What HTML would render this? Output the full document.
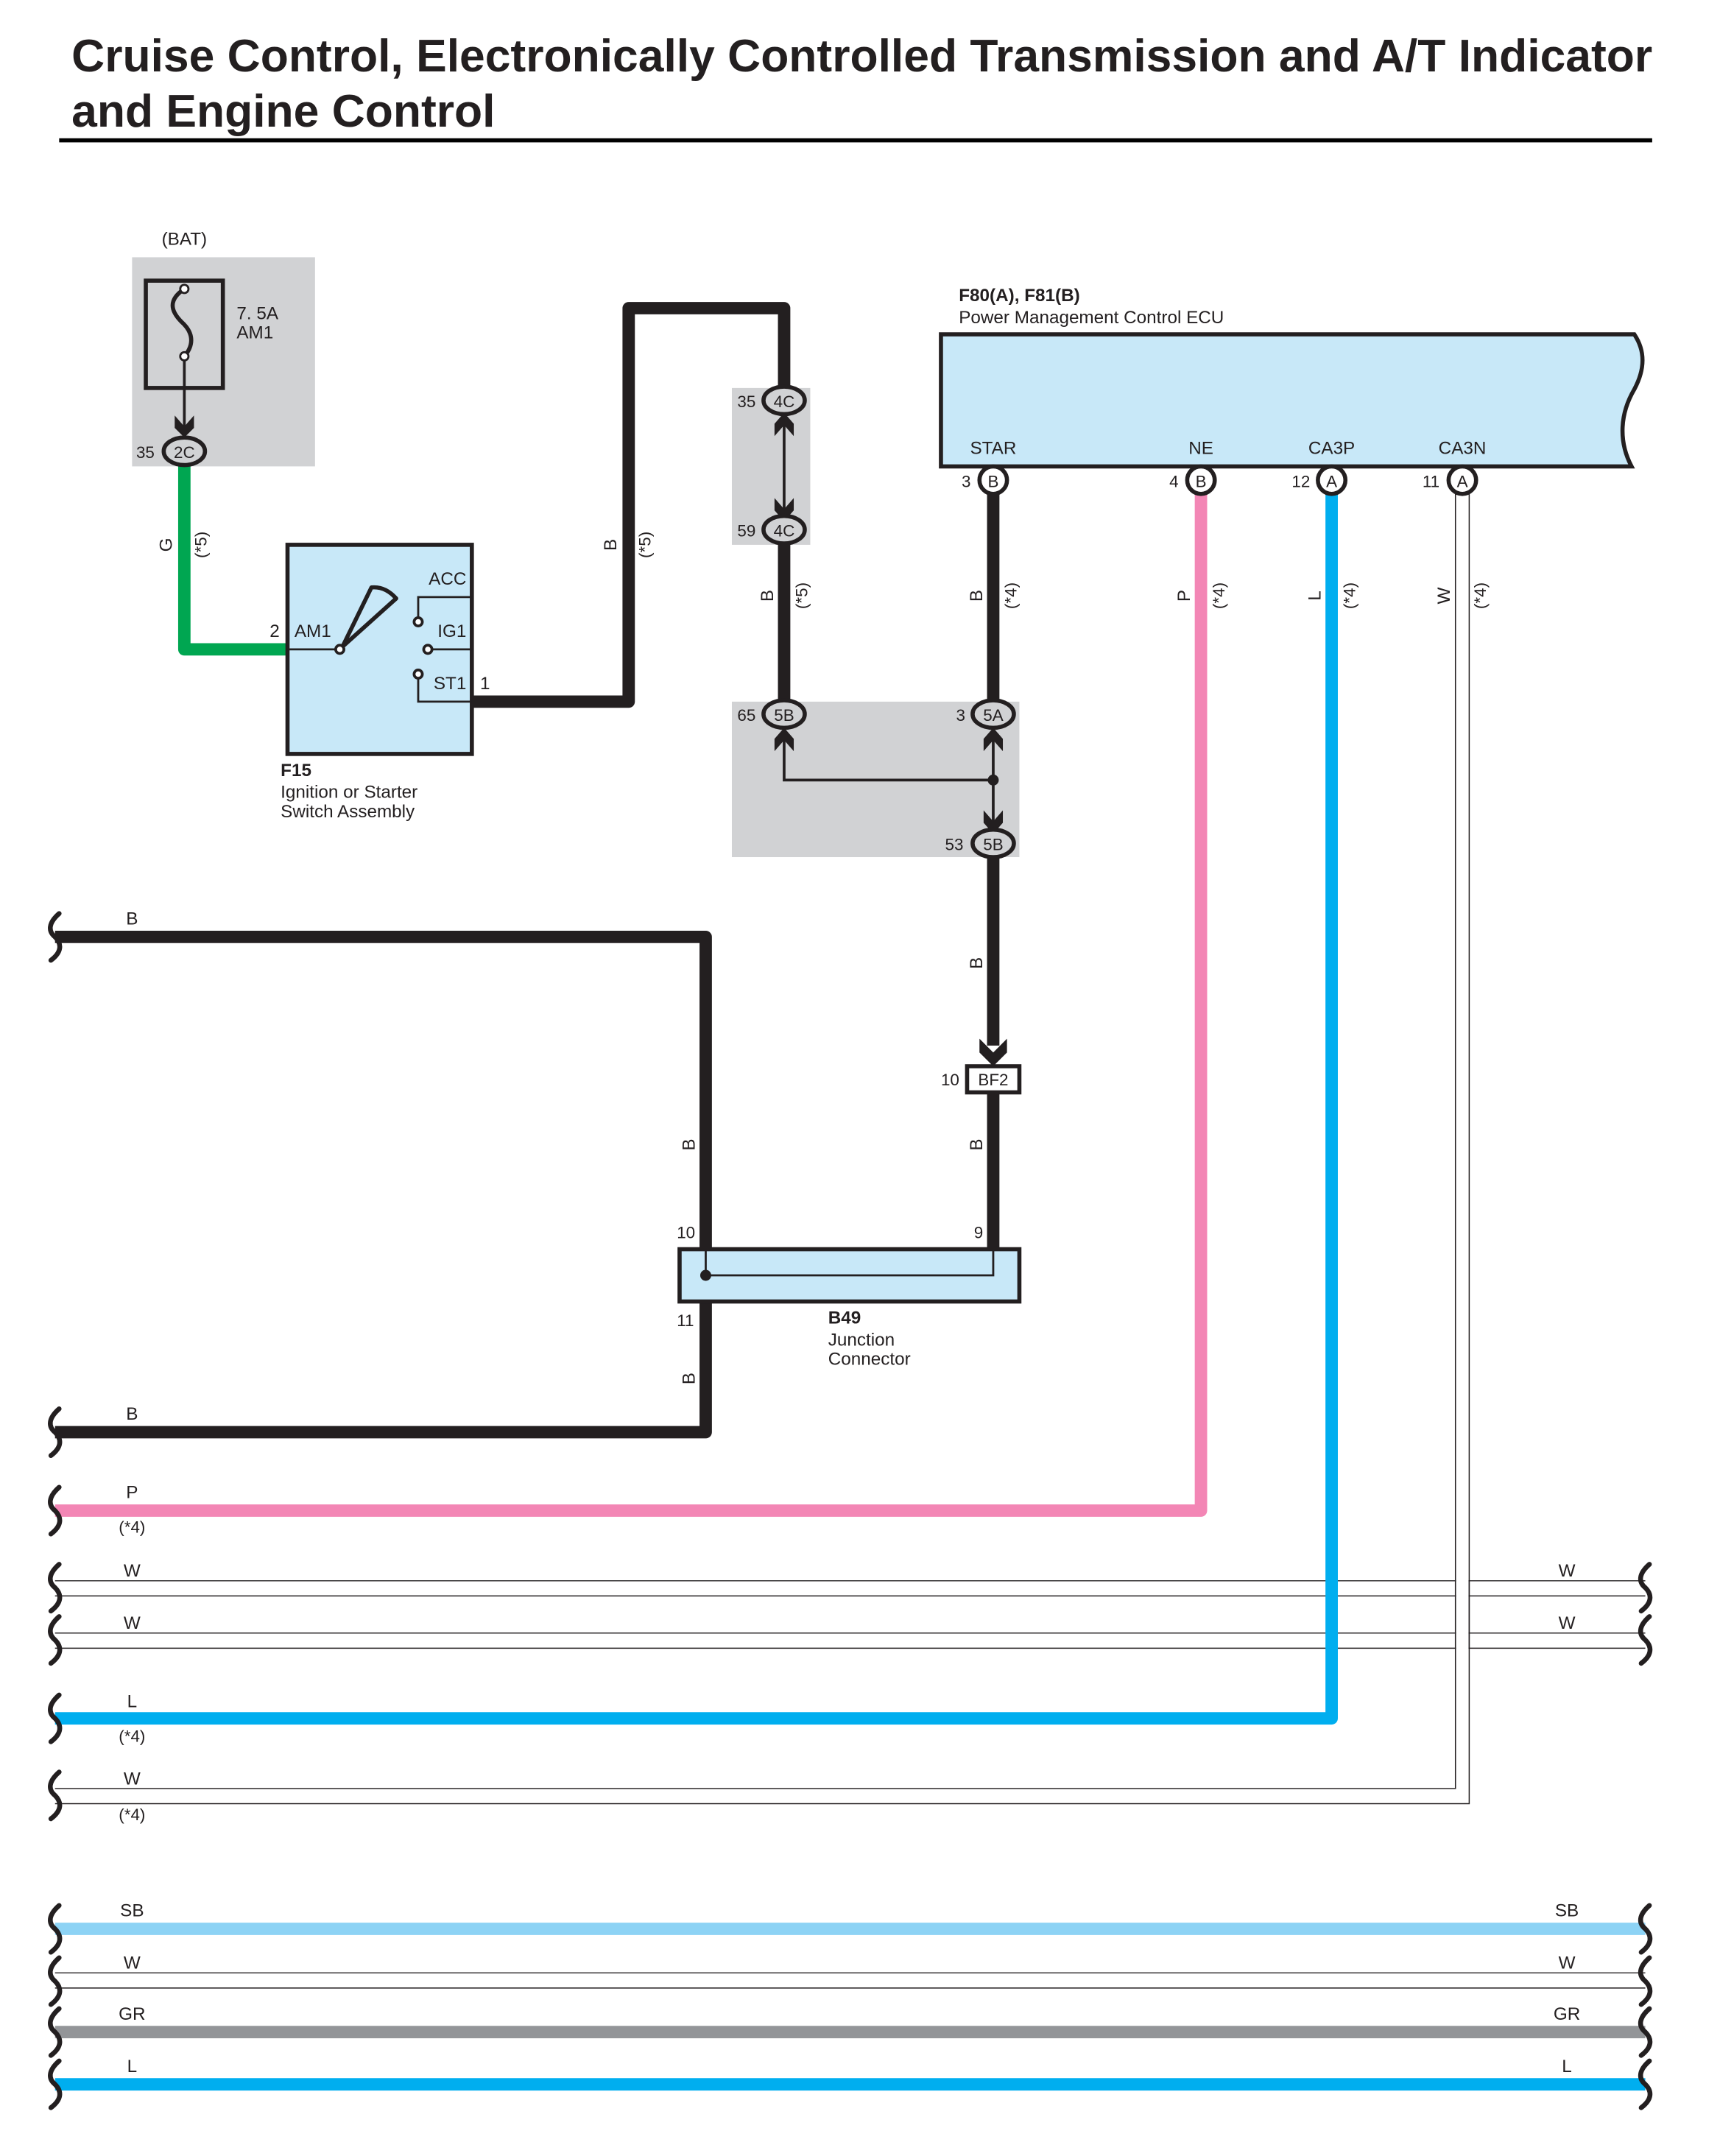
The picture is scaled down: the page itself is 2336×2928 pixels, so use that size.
<!DOCTYPE html>
<html><head><meta charset="utf-8"><style>
html,body{margin:0;padding:0;background:#fff}
svg{display:block}
text{font-family:"Liberation Sans",sans-serif;fill:#231f20}
</style></head><body>
<svg width="2336" height="2928" viewBox="0 0 1250.3 1567.1" preserveAspectRatio="none" xmlns="http://www.w3.org/2000/svg">
<defs>
<path id="brk" d="M3,-17 C-5,-10 -5,-4 0,0 C5,5 5,11 -3,17" fill="none" stroke="#231f20" stroke-width="3.5" stroke-linecap="round"/>
</defs>
<!-- Title -->
<text x="52" y="52" font-size="33.4" font-weight="bold">Cruise Control, Electronically Controlled Transmission and A/T Indicator</text>
<text x="52" y="92" font-size="33.4" font-weight="bold">and Engine Control</text>
<rect x="43" y="100.5" width="1158" height="3" fill="#000"/>

<g font-size="13">
<!-- Fuse -->
<text x="134" y="178" text-anchor="middle">(BAT)</text>
<rect x="96" y="187" width="133" height="152" fill="#d1d2d4"/>
<rect x="106" y="204" width="56" height="78" fill="none" stroke="#231f20" stroke-width="3"/>
<path d="M134,210 C122,218 124,226 132,234 C142,243 140,252 134,259" fill="none" stroke="#231f20" stroke-width="3"/>
<circle cx="134" cy="210" r="3" fill="#fff" stroke="#231f20" stroke-width="1.5"/>
<circle cx="134" cy="259" r="3" fill="#fff" stroke="#231f20" stroke-width="1.5"/>
<line x1="134" y1="262" x2="134" y2="318" stroke="#231f20" stroke-width="2"/>
<path d="M127,302 L134,310 L141,302 L141,311 L134,318 L127,311Z" fill="#231f20"/>
<text x="172" y="232">7. 5A</text>
<text x="172" y="246">AM1</text>

<!-- green wire -->
<path d="M134,338 V472 H209" fill="none" stroke="#00a651" stroke-width="9" stroke-linejoin="round"/>
<text transform="translate(125,396) rotate(-90)" text-anchor="middle">G</text>
<text transform="translate(150,396) rotate(-90)" text-anchor="middle" font-size="12">(*5)</text>
<ellipse cx="134" cy="328" rx="15" ry="10" fill="#d1d2d4" stroke="#231f20" stroke-width="3"/>
<text x="134" y="333" text-anchor="middle" font-size="12">2C</text>
<text x="99" y="333" font-size="12">35</text>

<!-- Switch -->
<rect x="209" y="396" width="134" height="152" fill="#c8e8f8" stroke="#231f20" stroke-width="3"/>
<line x1="209" y1="472" x2="245" y2="472" stroke="#231f20" stroke-width="1.5"/>
<path d="M249,470 L270,427 Q280,426 288,435 Z" fill="none" stroke="#231f20" stroke-width="3" stroke-linejoin="round"/>
<circle cx="247" cy="472" r="3" fill="#fff" stroke="#231f20" stroke-width="2"/>
<path d="M343,434 H304 V449" fill="none" stroke="#231f20" stroke-width="1.5"/>
<circle cx="304" cy="452" r="3" fill="#fff" stroke="#231f20" stroke-width="2"/>
<line x1="314" y1="472" x2="343" y2="472" stroke="#231f20" stroke-width="1.5"/>
<circle cx="311" cy="472" r="3" fill="#fff" stroke="#231f20" stroke-width="2"/>
<path d="M304,493 V510 H343" fill="none" stroke="#231f20" stroke-width="1.5"/>
<circle cx="304" cy="490" r="3" fill="#fff" stroke="#231f20" stroke-width="2"/>
<text x="339" y="425" text-anchor="end">ACC</text>
<text x="339" y="463" text-anchor="end">IG1</text>
<text x="339" y="501" text-anchor="end">ST1</text>
<text x="349" y="501">1</text>
<text x="196" y="463">2</text>
<text x="214" y="463">AM1</text>
<text x="204" y="564" font-weight="bold">F15</text>
<text x="204" y="580">Ignition or Starter</text>
<text x="204" y="594">Switch Assembly</text>

<!-- Black wire from switch -->
<path d="M343,510 H457 V224 H570 V282" fill="none" stroke="#231f20" stroke-width="9" stroke-linejoin="round"/>
<text transform="translate(448,396) rotate(-90)" text-anchor="middle">B</text>
<text transform="translate(473,396) rotate(-90)" text-anchor="middle" font-size="12">(*5)</text>

<!-- 4C gray -->
<rect x="532" y="282" width="57" height="114" fill="#d1d2d4"/>
<line x1="570" y1="302" x2="570" y2="375" stroke="#231f20" stroke-width="2"/>
<path d="M563,317 L570,309 L577,317 L577,308 L570,300 L563,308Z" fill="#231f20"/>
<path d="M563,362 L570,370 L577,362 L577,371 L570,379 L563,371Z" fill="#231f20"/>
<ellipse cx="570" cy="291" rx="15" ry="10" fill="#d1d2d4" stroke="#231f20" stroke-width="3"/>
<text x="570" y="296" text-anchor="middle" font-size="12">4C</text>
<text x="536" y="296" font-size="12">35</text>
<ellipse cx="570" cy="385" rx="15" ry="10" fill="#d1d2d4" stroke="#231f20" stroke-width="3"/>
<text x="570" y="390" text-anchor="middle" font-size="12">4C</text>
<text x="536" y="390" font-size="12">59</text>

<line x1="570" y1="395" x2="570" y2="510" stroke="#231f20" stroke-width="9"/>
<text transform="translate(562,433) rotate(-90)" text-anchor="middle">B</text>
<text transform="translate(587,433) rotate(-90)" text-anchor="middle" font-size="12">(*5)</text>

<!-- 5A/5B gray -->
<rect x="532" y="510" width="209" height="113" fill="#d1d2d4"/>
<path d="M570,535 V567 H722 M722,535 V600" fill="none" stroke="#231f20" stroke-width="2"/>
<path d="M563,546 L570,538 L577,546 L577,537 L570,529 L563,537Z" fill="#231f20"/>
<path d="M715,546 L722,538 L729,546 L729,537 L722,529 L715,537Z" fill="#231f20"/>
<path d="M715,589 L722,597 L729,589 L729,598 L722,606 L715,598Z" fill="#231f20"/>
<circle cx="722" cy="567" r="4" fill="#231f20"/>
<ellipse cx="570" cy="519" rx="15" ry="10" fill="#d1d2d4" stroke="#231f20" stroke-width="3"/>
<text x="570" y="524" text-anchor="middle" font-size="12">5B</text>
<text x="536" y="524" font-size="12">65</text>
<ellipse cx="722" cy="519" rx="15" ry="10" fill="#d1d2d4" stroke="#231f20" stroke-width="3"/>
<text x="722" y="524" text-anchor="middle" font-size="12">5A</text>
<text x="695" y="524" font-size="12">3</text>
<ellipse cx="722" cy="613" rx="15" ry="10" fill="#d1d2d4" stroke="#231f20" stroke-width="3"/>
<text x="722" y="618" text-anchor="middle" font-size="12">5B</text>
<text x="687" y="618" font-size="12">53</text>

<!-- ECU -->
<text x="697" y="219" font-weight="bold">F80(A), F81(B)</text>
<text x="697" y="235">Power Management Control ECU</text>
<path d="M684,243 H1188 C1196,255 1196,268 1188,283 C1178,300 1176,320 1186,339 H684 Z" fill="#c8e8f8" stroke="#231f20" stroke-width="3"/>
<text x="722" y="330" text-anchor="middle">STAR</text>
<text x="873" y="330" text-anchor="middle">NE</text>
<text x="968" y="330" text-anchor="middle">CA3P</text>
<text x="1063" y="330" text-anchor="middle">CA3N</text>

<!-- STAR wire -->
<line x1="722" y1="359" x2="722" y2="509" stroke="#231f20" stroke-width="9"/>
<text transform="translate(714,433) rotate(-90)" text-anchor="middle">B</text>
<text transform="translate(739,433) rotate(-90)" text-anchor="middle" font-size="12">(*4)</text>
<line x1="722" y1="623" x2="722" y2="760" stroke="#231f20" stroke-width="9"/>
<path d="M712,755 L722,765 L732,755 L732,765 L722,775 L712,765Z" fill="#231f20"/>
<text transform="translate(714,700) rotate(-90)" text-anchor="middle">B</text>
<rect x="703" y="775" width="38" height="19" fill="#fff" stroke="#231f20" stroke-width="3"/>
<text x="722" y="789" text-anchor="middle" font-size="12">BF2</text>
<text x="684" y="789" font-size="12">10</text>
<line x1="722" y1="794" x2="722" y2="908" stroke="#231f20" stroke-width="9"/>
<text transform="translate(714,832) rotate(-90)" text-anchor="middle">B</text>

<!-- NE pink -->
<path d="M873,359 V1098 H40" fill="none" stroke="#f386b5" stroke-width="9" stroke-linejoin="round"/>
<text transform="translate(865,433) rotate(-90)" text-anchor="middle">P</text>
<text transform="translate(890,433) rotate(-90)" text-anchor="middle" font-size="12">(*4)</text>

<!-- W wires horizontal -->
<g stroke="#231f20" stroke-width="0.8">
<line x1="40" y1="1149" x2="1196" y2="1149"/><line x1="40" y1="1160" x2="1196" y2="1160"/>
<line x1="40" y1="1187" x2="1196" y2="1187"/><line x1="40" y1="1198" x2="1196" y2="1198"/>
</g>

<!-- CA3N white wire -->
<path d="M1058,359 V1300 H40" fill="none" stroke="#231f20" stroke-width="0.8"/>
<path d="M1068,359 V1311 H40" fill="none" stroke="#231f20" stroke-width="0.8"/>
<rect x="1058.5" y="359" width="9" height="946" fill="#fff"/>
<rect x="40" y="1300.5" width="1024" height="10" fill="#fff"/>
<line x1="1058" y1="1149" x2="1058" y2="1198" stroke="#231f20" stroke-width="0.8"/>
<line x1="1068" y1="1149" x2="1068" y2="1198" stroke="#231f20" stroke-width="0.8"/>
<text transform="translate(1054,433) rotate(-90)" text-anchor="middle">W</text>
<text transform="translate(1080,433) rotate(-90)" text-anchor="middle" font-size="12">(*4)</text>

<!-- CA3P blue -->
<path d="M968,359 V1249 H40" fill="none" stroke="#00aeef" stroke-width="9" stroke-linejoin="round"/>
<text transform="translate(960,433) rotate(-90)" text-anchor="middle">L</text>
<text transform="translate(985,433) rotate(-90)" text-anchor="middle" font-size="12">(*4)</text>

<!-- ECU connectors -->
<circle cx="722" cy="349" r="10" fill="#fff" stroke="#231f20" stroke-width="3"/>
<text x="722" y="354" text-anchor="middle" font-size="12">B</text><text x="699" y="354" font-size="12">3</text>
<circle cx="873" cy="349" r="10" fill="#fff" stroke="#231f20" stroke-width="3"/>
<text x="873" y="354" text-anchor="middle" font-size="12">B</text><text x="850" y="354" font-size="12">4</text>
<circle cx="968" cy="349" r="10" fill="#fff" stroke="#231f20" stroke-width="3"/>
<text x="968" y="354" text-anchor="middle" font-size="12">A</text><text x="939" y="354" font-size="12">12</text>
<circle cx="1063" cy="349" r="10" fill="#fff" stroke="#231f20" stroke-width="3"/>
<text x="1063" y="354" text-anchor="middle" font-size="12">A</text><text x="1034" y="354" font-size="12">11</text>

<!-- B49 black wires -->
<path d="M40,681 H513 V1041 H40" fill="none" stroke="#231f20" stroke-width="9" stroke-linejoin="round"/>
<rect x="494" y="908" width="247" height="38" fill="#c8e8f8" stroke="#231f20" stroke-width="3"/>
<path d="M513,908 V927 H722 V908" fill="none" stroke="#231f20" stroke-width="1.5"/>
<circle cx="513" cy="927" r="4" fill="#231f20"/>
<text x="492" y="900" font-size="12">10</text>
<text x="708" y="900" font-size="12">9</text>
<text x="492" y="964" font-size="12">11</text>
<text transform="translate(505,832) rotate(-90)" text-anchor="middle">B</text>
<text transform="translate(505,1002) rotate(-90)" text-anchor="middle">B</text>
<text x="602" y="962" font-weight="bold">B49</text>
<text x="602" y="978">Junction</text>
<text x="602" y="992">Connector</text>

<!-- Bottom wires -->
<line x1="40" y1="1402" x2="1196" y2="1402" stroke="#8dd3f5" stroke-width="9"/>
<line x1="40" y1="1434" x2="1196" y2="1434" stroke="#231f20" stroke-width="0.8"/>
<line x1="40" y1="1445" x2="1196" y2="1445" stroke="#231f20" stroke-width="0.8"/>
<line x1="40" y1="1477" x2="1196" y2="1477" stroke="#939598" stroke-width="9"/>
<line x1="40" y1="1515" x2="1196" y2="1515" stroke="#00aeef" stroke-width="9"/>

<!-- left labels -->
<g text-anchor="middle">
<text x="96" y="672">B</text>
<text x="96" y="1032">B</text>
<text x="96" y="1089">P</text><text x="96" y="1114" font-size="12">(*4)</text>
<text x="96" y="1146">W</text><text x="1139" y="1146">W</text>
<text x="96" y="1184">W</text><text x="1139" y="1184">W</text>
<text x="96" y="1241">L</text><text x="96" y="1266" font-size="12">(*4)</text>
<text x="96" y="1297">W</text><text x="96" y="1323" font-size="12">(*4)</text>
<text x="96" y="1393">SB</text><text x="1139" y="1393">SB</text>
<text x="96" y="1431">W</text><text x="1139" y="1431">W</text>
<text x="96" y="1468">GR</text><text x="1139" y="1468">GR</text>
<text x="96" y="1506">L</text><text x="1139" y="1506">L</text>
</g>
</g>

<!-- break marks -->
<g>
<use href="#brk" x="40" y="681"/>
<use href="#brk" x="40" y="1041"/>
<use href="#brk" x="40" y="1098"/>
<use href="#brk" x="40" y="1154"/>
<use href="#brk" x="40" y="1192"/>
<use href="#brk" x="40" y="1249"/>
<use href="#brk" x="40" y="1305"/>
<use href="#brk" x="40" y="1402"/>
<use href="#brk" x="40" y="1440"/>
<use href="#brk" x="40" y="1477"/>
<use href="#brk" x="40" y="1515"/>
<use href="#brk" x="1196" y="1154"/>
<use href="#brk" x="1196" y="1192"/>
<use href="#brk" x="1196" y="1402"/>
<use href="#brk" x="1196" y="1440"/>
<use href="#brk" x="1196" y="1477"/>
<use href="#brk" x="1196" y="1515"/>
</g>
</svg>
</body></html>
